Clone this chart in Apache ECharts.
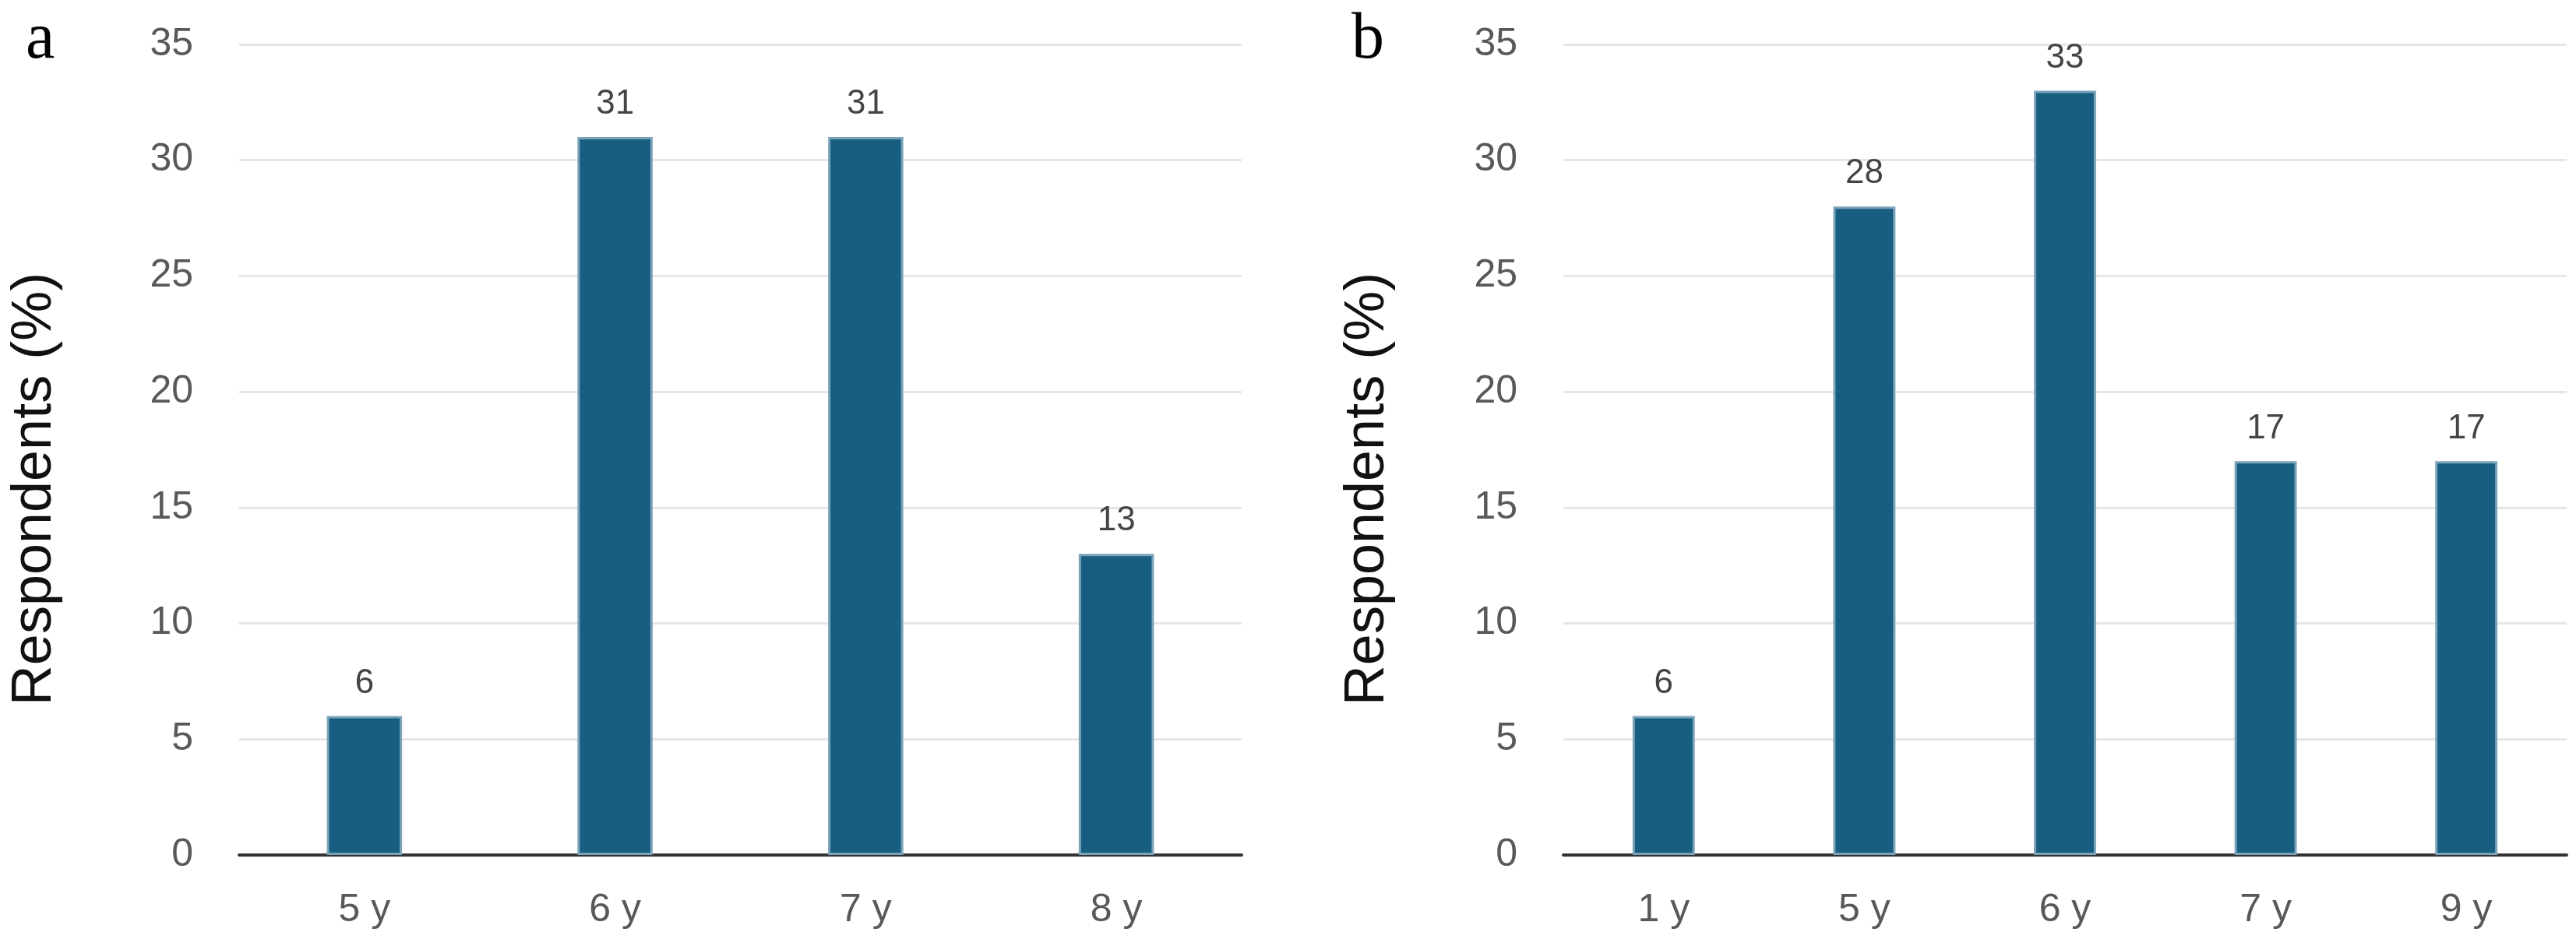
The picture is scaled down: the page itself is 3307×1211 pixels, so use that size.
<!DOCTYPE html>
<html>
<head>
<meta charset="utf-8">
<script src="https://cdn.jsdelivr.net/npm/echarts@6/dist/echarts.min.js"></script>
<style>
html,body{margin:0;padding:0;background:#fff;}
#c{width:3307px;height:1211px;}
</style>
</head>
<body>
<div id="c"></div>
<script>
const categoriesA = ['5 y', '6 y', '7 y', '8 y'];
const valuesA = [6, 31, 31, 13];
const categoriesB = ['1 y', '5 y', '6 y', '7 y', '9 y'];
const valuesB = [6, 28, 33, 17, 17];
const yTicks = { min: 0, max: 35, interval: 5 };
const axisTitle = 'Respondents (%)';
const panelLetters = ['a', 'b'];

const chart = echarts.init(document.getElementById('c'), null, { renderer: 'canvas' });

const FONT = '"Liberation Sans", Arial, sans-serif';
const barColor = '#185e80';
const barBorder = '#7aa3b9';

function xAxisCfg(idx, cats) {
  return {
    type: 'category', gridIndex: idx, data: cats,
    axisLine: { show: true, lineStyle: { color: '#333', width: 4 } },
    axisTick: { show: false },
    axisLabel: { color: '#595959', fontSize: 50, fontFamily: FONT, margin: 46 },
    splitLine: { show: false }
  };
}
function yAxisCfg(idx) {
  return {
    type: 'value', gridIndex: idx, min: yTicks.min, max: yTicks.max, interval: yTicks.interval,
    axisLine: { show: false }, axisTick: { show: false },
    axisLabel: { color: '#595959', fontSize: 50, fontFamily: FONT, margin: 59 },
    splitLine: { show: true, lineStyle: { color: '#e6e6e6', width: 3 } }
  };
}
function seriesCfg(idx, vals, bw) {
  return {
    type: 'bar', xAxisIndex: idx, yAxisIndex: idx, data: vals, barWidth: bw,
    itemStyle: { color: barColor, borderColor: barBorder, borderWidth: 3 },
    label: { show: true, position: 'top', distance: 20, color: '#444', fontSize: 44, fontFamily: FONT },
    silent: true
  };
}

chart.setOption({
  animation: false,
  backgroundColor: '#fff',
  grid: [
    { left: 307, right: 3307 - 1594, top: 57, bottom: 1211 - 1098 },
    { left: 2007, right: 3307 - 3295, top: 57, bottom: 1211 - 1098 }
  ],
  xAxis: [xAxisCfg(0, categoriesA), xAxisCfg(1, categoriesB)],
  yAxis: [yAxisCfg(0), yAxisCfg(1)],
  series: [seriesCfg(0, valuesA, '30%'), seriesCfg(1, valuesB, '31%')],
  graphic: [
    { type: 'text', left: 33, top: 10, style: { text: panelLetters[0], font: '84px "Liberation Serif", "Times New Roman", serif', fill: '#000' } },
    { type: 'text', left: 1735, top: 10, style: { text: panelLetters[1], font: '84px "Liberation Serif", "Times New Roman", serif', fill: '#000' } },
    { type: 'text', x: 45, y: 628, rotation: Math.PI / 2, style: { text: axisTitle, font: '72px ' + FONT, fill: '#111', textAlign: 'center', textVerticalAlign: 'middle' } },
    { type: 'text', x: 1756, y: 628, rotation: Math.PI / 2, style: { text: axisTitle, font: '72px ' + FONT, fill: '#111', textAlign: 'center', textVerticalAlign: 'middle' } }
  ]
});
</script>
</body>
</html>
